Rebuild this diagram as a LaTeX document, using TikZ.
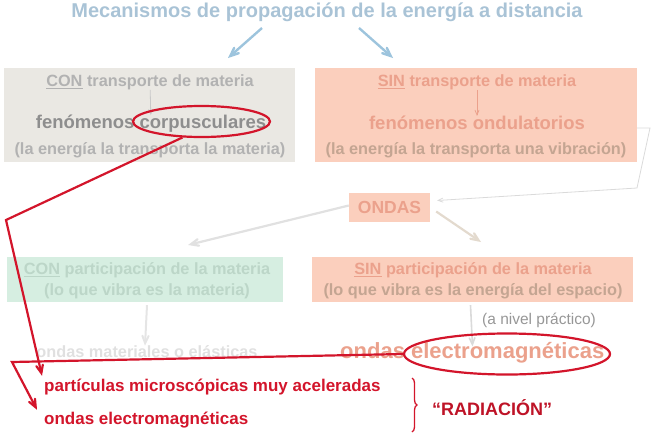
\documentclass[tikz,border=0pt]{standalone}
\usepackage{fontspec}
\setmainfont{Liberation Sans}
\usepackage{xcolor}
\usetikzlibrary{shapes.geometric,arrows,calc,decorations.pathreplacing}
\definecolor{titleblue}{HTML}{A9C3D6}
\definecolor{arrowblue}{HTML}{9DC4DD}
\definecolor{greybox}{HTML}{EAE8E3}
\definecolor{salmonbox}{HTML}{FBCFBD}
\definecolor{greenbox}{HTML}{D6EEE1}
\definecolor{greytext}{HTML}{B2B2B2}
\definecolor{darkgrey}{HTML}{8E8E8E}
\definecolor{salmontext}{HTML}{EBA18C}
\definecolor{browntext}{HTML}{C4A592}
\definecolor{greentext}{HTML}{BCD6C8}
\definecolor{lightline}{HTML}{DADADA}
\definecolor{beigeline}{HTML}{E3DACE}
\definecolor{radred}{HTML}{D3152B}

\begin{document}
\begin{tikzpicture}[x=1pt,y=-1pt,
    box/.style={inner sep=0pt,fill=#1},
    txt/.style={inner sep=0pt,font=\bfseries\fontsize{16.3}{17}\selectfont},
    arrow/.style={draw,very thick,-angle 45},
    redarrow/.style={draw=radred,line width=2.2pt,-angle 45},
    redring/.style={ellipse,draw=radred,line width=2.2pt,inner sep=0pt}]
    \useasboundingbox (0,0) rectangle (662,437);

    % title
    \node[inner sep=0pt,text=titleblue,font=\bfseries\fontsize{20}{21}\selectfont] (title) at (327,12)
      {Mecanismos de propagación de la energía a distancia};

    % boxes
    \node[box=greybox,minimum width=291pt,minimum height=94pt] (conbox) at (149.5,115) {};
    \node[box=salmonbox,minimum width=322pt,minimum height=94pt] (sinbox) at (476,115) {};
    \node[box=salmonbox,minimum width=81pt,minimum height=29pt] (ondas) at (389.5,207.5) {};
    \node[box=greenbox,minimum width=276pt,minimum height=45pt] (conpart) at (145,279.5) {};
    \node[box=salmonbox,minimum width=321pt,minimum height=45pt] (sinpart) at (472.5,279.5) {};

    % texts
    \node[txt,text=greytext] (contrans) at (150,82) {\underline{CON} transporte de materia};
    \node[txt,text=darkgrey,font=\bfseries\fontsize{18.5}{19}\selectfont] (corp) at (151,124) {fenómenos corpusculares};
    \node[txt,text=greytext] (conlinea) at (150,150) {(la energía la transporta la materia)};
    \node[txt,text=salmontext] (sintrans) at (477,82) {\underline{SIN} transporte de materia};
    \node[txt,text=salmontext,font=\bfseries\fontsize{18.5}{19}\selectfont] (ondul) at (477,123) {fenómenos ondulatorios};
    \node[txt,text=browntext] (sinlinea) at (476,150) {(la energía la transporta una vibración)};
    \node[txt,text=salmontext,font=\bfseries\fontsize{17.5}{18}\selectfont] (ondastxt) at (ondas) {ONDAS};
    \node[txt,text=greentext] (conparta) at (147,270) {\underline{CON} participación de la materia};
    \node[txt,text=greentext] (conpartb) at (147,291) {(lo que vibra es la materia)};
    \node[txt,text=salmontext] (sinparta) at (473,270) {\underline{SIN} participación de la materia};
    \node[txt,text=browntext] (sinpartb) at (473,291) {(lo que vibra es la energía del espacio)};
    \node[txt,text=greytext!40] (mater) at (147,352) {ondas materiales o elásticas};
    \node[inner sep=0pt,text=greytext!85!black,font=\fontsize{15.5}{16}\selectfont,anchor=west] (nivel) at (482,320) {(a nivel práctico)};
    \node[txt,text=salmontext,font=\bfseries\fontsize{22}{23}\selectfont,anchor=west] (emag) at (340,353) {ondas electromagnéticas};
    \node[txt,text=radred,font=\bfseries\fontsize{17}{18}\selectfont,anchor=west] (partic) at (44,387) {partículas microscópicas muy aceleradas};
    \node[txt,text=radred,font=\bfseries\fontsize{17}{18}\selectfont,anchor=west] (ondemag) at (44,420) {ondas electromagnéticas};
    \node[txt,text=radred!90!black,font=\bfseries\fontsize{18}{19}\selectfont,anchor=west] (radiac) at (432,408) {“RADIACIÓN”};

    % free ends
    \coordinate (B1) at (262,28);
    \coordinate (B2) at (228,58);
    \coordinate (B3) at (359,28);
    \coordinate (B4) at (393,58);
    \coordinate (K1) at (650,128);
    \coordinate (K2) at (637,188);
    \coordinate (G1) at (188,245);
    \coordinate (G2) at (481,242);
    \coordinate (R1) at (6,220);
    \coordinate (R2) at (12,362);

    % grey connectors
    \draw[arrow,color=arrowblue,line width=2.4pt] (B1) -- (B2);
    \draw[arrow,color=arrowblue,line width=2.4pt] (B3) -- (B4);
    \draw[arrow,color=greytext!70,thick] (contrans) -- (corp);
    \draw[arrow,color=salmontext,thick] (sintrans) -- (ondul);
    \draw[arrow,color=lightline,thick] (sinbox.east |- K1) -- (K1) -- (K2) -- ([xshift=7pt,yshift=7pt]ondas.east);
    \draw[arrow,color=lightline!80,line width=2.2pt] ([yshift=2pt]ondas.west) -- (G1);
    \draw[arrow,color=beigeline,line width=2.2pt] ([xshift=6pt,yshift=-4pt]ondas.east) -- (G2);
    \draw[arrow,color=lightline!70,line width=2pt] (conpart.south) ++(2,3) -- (mater.north -| conpart.south);
    \draw[arrow,color=lightline,line width=1.6pt] (sinpart.south) ++(-2,3) -- ([yshift=-4pt]emag.north -| sinpart.south);

    % red rings and links
    \node[redring,minimum width=137pt,minimum height=31pt] (ringcorp) at (201.5,121.5) {};
    \node[redring,minimum width=206pt,minimum height=41pt] (ringemag) at (507,354) {};
    \draw[redarrow] (ringcorp.220) -- (R1) -- ([xshift=-2pt,yshift=3pt]partic.north west);
    \draw[redarrow] (ringemag.west) -- (R2) -- ([xshift=-7pt,yshift=2pt]ondemag.north west);
    \draw[radred,line width=1.3pt,decorate,decoration={brace,amplitude=5pt}] (412,378) -- (412,432);

\end{tikzpicture}
\end{document}
